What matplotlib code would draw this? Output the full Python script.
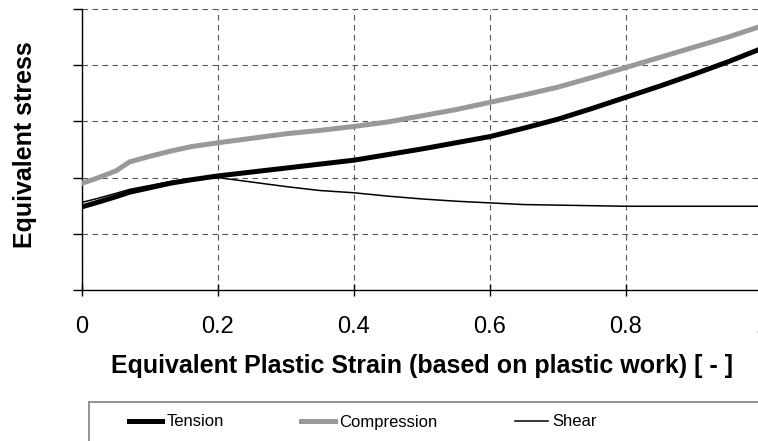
import numpy as np
import matplotlib
matplotlib.use("Agg")
import matplotlib.pyplot as plt
from matplotlib.patches import Rectangle

# equivalent plastic strain and stress for the three load cases
strain = [0, 0.02, 0.05, 0.07, 0.1, 0.13, 0.16, 0.2, 0.25, 0.3, 0.35, 0.4,
          0.45, 0.5, 0.55, 0.6, 0.65, 0.7, 0.75, 0.8, 0.85, 0.9, 0.95, 1.0]
tension = [1.48, 1.55, 1.66, 1.74, 1.82, 1.90, 1.96, 2.03, 2.10, 2.17, 2.24, 2.31,
           2.41, 2.51, 2.62, 2.73, 2.88, 3.04, 3.23, 3.43, 3.63, 3.84, 4.06, 4.30]
compression = [1.90, 1.98, 2.12, 2.28, 2.38, 2.47, 2.55, 2.62, 2.70, 2.78, 2.84, 2.91,
               2.99, 3.10, 3.21, 3.34, 3.47, 3.61, 3.78, 3.96, 4.14, 4.32, 4.50, 4.70]
shear = [1.56, 1.62, 1.72, 1.79, 1.86, 1.93, 1.98, 2.00, 1.92, 1.84, 1.77, 1.73,
         1.67, 1.62, 1.58, 1.55, 1.52, 1.51, 1.50, 1.49, 1.49, 1.49, 1.49, 1.49]

xticks = [0, 0.2, 0.4, 0.6, 0.8, 1.0]
xticklabels = ["0", "0.2", "0.4", "0.6", "0.8", "1"]

plt.rcParams['font.family'] = ['Liberation Sans', 'DejaVu Sans']

fig = plt.figure(figsize=(7.58, 4.41), dpi=100)
ax = fig.add_axes([82/758, 151/441, 680/758, 281/441])

ax.plot(strain, tension, color='black', lw=3.6, label='Tension', zorder=3)
ax.plot(strain, compression, color='#999999', lw=3.6, label='Compression', zorder=3)
ax.plot(strain, shear, color='black', lw=1.1, label='Shear', zorder=4)

ax.set_xlim(0, 1)
ax.set_ylim(0, 5)
ax.set_xticks(xticks)
ax.set_xticklabels(xticklabels, fontsize=17)
ax.set_yticks(np.arange(0, 6, 1))
ax.set_yticklabels([])
ax.tick_params(axis='x', direction='inout', length=8, width=1, pad=15)
ax.tick_params(axis='y', direction='out', length=6.5, width=1)

ax.grid(True, color='#555555', linestyle=(0, (5, 4)), linewidth=0.8)
ax.set_axisbelow(True)
for s in ['top', 'right']:
    ax.spines[s].set_visible(False)
for s in ['left', 'bottom']:
    ax.spines[s].set_linewidth(1)

ax.set_xlabel("Equivalent Plastic Strain (based on plastic work) [ - ]",
              fontsize=18, fontweight='bold', labelpad=11)
ax.set_ylabel("Equivalent stress", fontsize=18, fontweight='bold')
ax.yaxis.set_label_coords(-(82 - 37)/680, 0.516)

# legend box runs off the lower right edge
fig.patches.append(Rectangle((89/758, -0.05), 0.95, 0.05 + 39/441,
                             transform=fig.transFigure, fill=False,
                             edgecolor='#808080', linewidth=1.2))
handles, labels = ax.get_legend_handles_labels()
fig.legend(handles, labels, loc='center left', ncol=3, frameon=False,
           bbox_to_anchor=(129/758, 1 - 422/441), borderaxespad=0, borderpad=0,
           prop={'size': 12}, handlelength=2.0, handletextpad=0.25,
           columnspacing=4.65)

fig.savefig("out.png", dpi=100)
